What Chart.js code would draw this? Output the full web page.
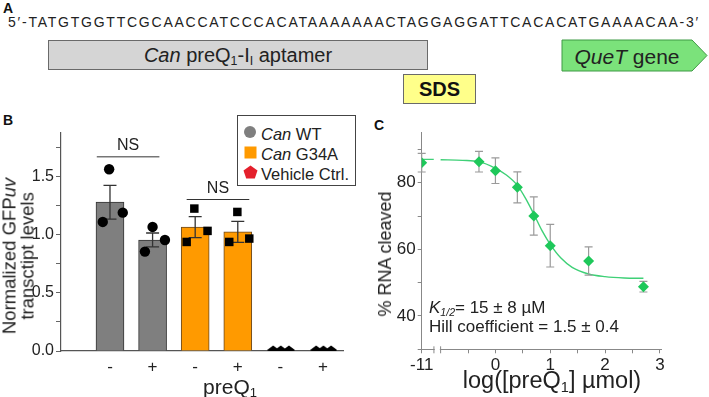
<!DOCTYPE html>
<html>
<head>
<meta charset="utf-8">
<script src="https://cdn.jsdelivr.net/npm/chart.js@4.4.1/dist/chart.umd.min.js"></script>
<style>
  body { margin:0; width:709px; height:397px; position:relative; overflow:hidden; background:#fff;
         font-family:"Liberation Sans", Arial, sans-serif; color:#222; }
  .abs { position:absolute; white-space:nowrap; line-height:1; }
  .c { transform:translate(-50%,-50%); }
  .panel { font-weight:bold; font-size:14px; color:#111; }
  sub { font-size:62%; vertical-align:-0.28em; line-height:0; }
  canvas { position:absolute; }
  .box { position:absolute; box-sizing:border-box; display:flex; align-items:center; justify-content:center; }
  .leg { position:absolute; left:237px; top:115px; width:119px; height:71px; box-sizing:border-box;
         border:1px solid #444; background:#fff; font-size:16.5px; }
  .leg div { position:absolute; left:23px; white-space:nowrap; }
</style>
</head>
<body>
<!-- panel A: sequence map -->
<div class="abs panel" style="left:3px;top:1px">A</div>
<div id="seq" class="abs" style="left:8px;top:15px;font-size:14px">5′-TATGTGGTTCGCAACCATCCCACATAAAAAAACTAGGAGGATTCACACATGAAAACAA-3′</div>
<div class="box" style="left:48px;top:40px;width:380px;height:30px;background:#d5d5d5;border:1px solid #6a6a6a;font-size:20px">
  <span><i>Can</i> preQ<sub>1</sub>-I<sub>I</sub> aptamer</span></div>
<div class="box" style="left:403px;top:74px;width:73px;height:30px;background:#ffff8a;border:1px solid #6a6a6a;font-size:20px;font-weight:bold;color:#111">SDS</div>
<svg class="abs" style="left:561px;top:39px" width="148" height="33">
  <polygon points="1,1 131,1 146,16.5 131,32 1,32" fill="#7be27b" stroke="#3f9a45" stroke-width="1"/>
</svg>
<div class="abs c" style="left:627px;top:56px;font-size:21px"><i>QueT</i> gene</div>

<!-- panel B -->
<div class="abs panel" style="left:3px;top:113px">B</div>
<canvas id="chartB" width="360" height="287" style="left:0;top:110px;width:360px;height:287px"></canvas>
<div class="abs c" style="left:18px;top:256px;transform:translate(-50%,-50%) rotate(-90deg);text-align:center;font-size:18.5px;line-height:17.5px">
  Normalized GFP<i>uv</i><br>transctipt levels</div>
<div class="abs c" style="left:230px;top:386px;font-size:21px">preQ<sub>1</sub></div>
<div class="leg">
  <svg style="position:absolute;left:5px;top:9px" width="14" height="14"><circle cx="7" cy="7" r="6" fill="#7f7f7f"/></svg>
  <div style="top:9px"><i>Can</i> WT</div>
  <svg style="position:absolute;left:6px;top:30px" width="13" height="13"><rect x="0.5" y="0.5" width="12" height="12" fill="#ff9a00"/></svg>
  <div style="top:29px"><i>Can</i> G34A</div>
  <svg style="position:absolute;left:5px;top:49px" width="15" height="14"><polygon points="7.5,0.5 14.5,5.6 11.8,13.5 3.2,13.5 0.5,5.6" fill="#e4202c"/></svg>
  <div style="top:49px">Vehicle Ctrl.</div>
</div>

<!-- panel C -->
<div class="abs panel" style="left:374px;top:118px">C</div>
<canvas id="chartC" width="349" height="287" style="left:360px;top:110px;width:349px;height:287px"></canvas>
<div class="abs c" style="left:385px;top:254px;transform:translate(-50%,-50%) rotate(-90deg);font-size:18px">% RNA cleaved</div>
<div class="abs c" style="left:552px;top:381px;font-size:23.5px">log([preQ<sub>1</sub>] µmol)</div>
<div class="abs" style="left:429px;top:299px;font-size:17px"><i>K<sub>1/2</sub></i>= 15 ± 8 µM</div>
<div class="abs" style="left:429px;top:318px;font-size:17px">Hill coefficient = 1.5 ± 0.4</div>

<script>
// ---------- panel B data ----------
const barX = [1, 2, 3, 4, 5, 6];
const xLabelsB = ['-', '+', '-', '+', '-', '+'];
const barMeans = [1.28, 0.955, 1.065, 1.025, null, null];
const barSem = [0.145, 0.06, 0.09, 0.09, 0, 0];
const barFill = ['#7f7f7f', '#7f7f7f', '#ff9a00', '#ff9a00', '#000', '#000'];
const barEdge = ['#333', '#333', '#6b4a22', '#6b4a22', '#000', '#000'];

const wtX = [0.98, 0.83, 1.30, 2.00, 1.82, 2.29];
const wtY = [1.563, 1.11, 1.19, 1.067, 0.855, 0.955];
const mutX = [2.98, 2.80, 3.29, 3.99, 3.80, 4.27];
const mutY = [1.225, 0.938, 1.033, 1.196, 0.938, 0.967];
const vehX = [4.83, 5.01, 5.20, 5.84, 6.01, 6.19];
const vehY = [0, 0, 0, 0, 0, 0];

const yTicksB = [0, 0.25, 0.5, 0.75, 1, 1.25, 1.5, 1.75];
const nsBrackets = [
  { from: 0.69, to: 2.16, y: 1.67 },
  { from: 2.80, to: 4.27, y: 1.303 },
];

// ---------- panel C data ----------
const logConc = [-11, -0.3, 0, 0.4, 0.7, 1.0, 1.7, 2.7];
const pctCleaved = [86.0, 86.3, 83.6, 78.6, 70.0, 61.1, 56.5, 48.8];
const pctErr = [2.8, 3.1, 3.85, 4.65, 5.75, 6.4, 4.25, 1.6];
const fitX = [-1.0, -0.6, -0.3, 0, 0.2, 0.4, 0.55, 0.7, 0.85, 1.0, 1.2, 1.4, 1.7, 2.0, 2.35, 2.7];
const fitY = [86.9, 86.7, 86.3, 84.3, 82.3, 79.2, 75.3, 70.6, 65.6, 61.5, 57.3, 54.6, 52.6, 51.8, 51.4, 51.3];
const fitLeftX = [-11, -10.6];
const fitLeftY = [87.0, 87.0];
const xTicksC = [-11, -0.5, 0, 0.5, 1, 1.5, 2, 2.5, 3];
const xLabelsC = ['-11', '', '0', '', '1', '', '2', '', '3'];
const yTicksC = [30, 40, 50, 60, 70, 80, 90];

// broken axis: log = -11 sits in the slot left of the break
const BREAK_SLOT = -1.345;
const pos = v => (v <= -10 ? BREAK_SLOT + (v + 11) * 0.55 : v);

Chart.defaults.font.family = '"Liberation Sans", Arial, sans-serif';
Chart.defaults.color = '#222';

function pentagon(size, color) {
  const c = document.createElement('canvas');
  c.width = c.height = size;
  const g = c.getContext('2d');
  g.fillStyle = color;
  g.beginPath();
  for (let i = 0; i < 5; i++) {
    const a = -Math.PI / 2 + i * 2 * Math.PI / 5;
    g.lineTo(size / 2 + size / 2 * Math.cos(a), size / 2 + 0.6 + size / 2 * Math.sin(a));
  }
  g.closePath();
  g.fill();
  return c;
}

const errorBars = {
  id: 'errorBars',
  draw(chart, index, o) {
    if (index !== o.index) return;
    const meta = chart.getDatasetMeta(index);
    const ys = chart.scales.y, ctx = chart.ctx;
    const data = chart.data.datasets[index].data;
    ctx.save();
    ctx.strokeStyle = o.color;
    ctx.lineWidth = o.width;
    meta.data.forEach((el, i) => {
      const e = o.errors[i];
      if (!e || data[i].y == null) return;
      const x = el.x, t = ys.getPixelForValue(data[i].y + e), b = ys.getPixelForValue(data[i].y - e);
      ctx.beginPath();
      ctx.moveTo(x, t); ctx.lineTo(x, b);
      ctx.moveTo(x - o.cap, t); ctx.lineTo(x + o.cap, t);
      ctx.moveTo(x - o.cap, b); ctx.lineTo(x + o.cap, b);
      ctx.stroke();
    });
    ctx.restore();
  },
  beforeDatasetDraw(chart, args, o) { if (o.when === 'before') this.draw(chart, args.index, o); },
  afterDatasetDraw(chart, args, o) { if (o.when !== 'before') this.draw(chart, args.index, o); },
};

const brackets = {
  id: 'brackets',
  afterDraw(chart, args, o) {
    if (!o.items) return;
    const { x, y } = chart.scales, ctx = chart.ctx;
    ctx.save();
    ctx.strokeStyle = '#333';
    ctx.lineWidth = 1;
    ctx.fillStyle = '#222';
    ctx.font = '16px "Liberation Sans", Arial, sans-serif';
    ctx.textAlign = 'center';
    o.items.forEach(b => {
      const x0 = x.getPixelForValue(b.from), x1 = x.getPixelForValue(b.to), py = y.getPixelForValue(b.y);
      ctx.beginPath(); ctx.moveTo(x0, py); ctx.lineTo(x1, py); ctx.stroke();
      ctx.fillText('NS', (x0 + x1) / 2, py - 7);
    });
    ctx.restore();
  }
};

const axisBreak = {
  id: 'axisBreak',
  afterDraw(chart, args, o) {
    if (!o.at) return;
    const { x, y } = chart.scales, ctx = chart.ctx;
    const a = x.getPixelForValue(o.at[0]), b = x.getPixelForValue(o.at[1]), py = y.bottom;
    ctx.save();
    ctx.fillStyle = '#fff';
    ctx.fillRect(a + 0.8, py - 2, b - a - 1.6, 4);
    ctx.strokeStyle = '#888';
    ctx.lineWidth = 1;
    ctx.beginPath();
    ctx.moveTo(a, py - 3); ctx.lineTo(a, py + 4);
    ctx.moveTo(b, py - 3); ctx.lineTo(b, py + 4);
    ctx.stroke();
    ctx.restore();
  }
};

Chart.register(errorBars, brackets, axisBreak);

// ---------- chart B ----------
new Chart(document.getElementById('chartB'), {
  type: 'bar',
  data: {
    datasets: [
      { type: 'bar', data: barX.map((x, i) => ({ x, y: barMeans[i] })), backgroundColor: barFill,
        borderColor: barEdge, borderWidth: 1, barThickness: 28, order: 3 },
      { type: 'scatter', data: wtX.map((x, i) => ({ x, y: wtY[i] })), pointStyle: 'circle',
        pointRadius: 5.2, backgroundColor: '#000', borderWidth: 0, order: 1 },
      { type: 'scatter', data: mutX.map((x, i) => ({ x, y: mutY[i] })), pointStyle: 'rect',
        pointRadius: 6, backgroundColor: '#000', borderWidth: 0, order: 1 },
      { type: 'scatter', data: vehX.map((x, i) => ({ x, y: vehY[i] })), pointStyle: pentagon(12, '#000'),
        pointRadius: 6, order: 1 },
    ]
  },
  options: {
    responsive: false, animation: false, events: [],
    layout: { padding: { left: 21, right: 17, top: 23, bottom: 16 } },
    plugins: {
      legend: { display: false }, tooltip: { enabled: false },
      errorBars: { index: 0, errors: barSem, color: '#333', width: 1.3, cap: 6.5 },
      brackets: { items: nsBrackets },
    },
    scales: {
      x: {
        type: 'linear', min: -0.15, max: 6.47, offset: false,
        afterBuildTicks: s => { s.ticks = barX.map(v => ({ value: v })); },
        afterFit: s => { s.height = 30; },
        ticks: { callback: (v, i) => xLabelsB[i], font: { size: 17 }, padding: 6, autoSkip: false, maxRotation: 0 },
        grid: { display: false, drawTicks: false, offset: false },
        border: { color: '#555', width: 1.2 },
      },
      y: {
        min: 0, max: 1.875,
        afterBuildTicks: s => { s.ticks = yTicksB.map(v => ({ value: v })); },
        afterFit: s => { s.width = 40; },
        ticks: { callback: v => (v * 2 % 1 === 0 ? v.toFixed(1) : ''), font: { size: 16 }, padding: 2 },
        grid: { drawOnChartArea: false, tickLength: 5, color: '#666' },
        border: { color: '#555', width: 1.2 },
      }
    }
  }
});

// ---------- chart C ----------
new Chart(document.getElementById('chartC'), {
  type: 'scatter',
  data: {
    datasets: [
      { data: fitX.map((x, i) => ({ x, y: fitY[i] })), showLine: true, borderColor: '#3fd077',
        borderWidth: 1.4, pointRadius: 0, cubicInterpolationMode: 'monotone', order: 2 },
      { data: fitLeftX.map((x, i) => ({ x: pos(x), y: fitLeftY[i] })), showLine: true, borderColor: '#3fd077',
        borderWidth: 1.4, pointRadius: 0, order: 2 },
      { data: logConc.map((x, i) => ({ x: pos(x), y: pctCleaved[i] })), pointStyle: 'rectRot',
        pointRadius: 5.5, backgroundColor: '#1ec85a', borderColor: '#1ec85a', borderWidth: 0, order: 1 },
    ]
  },
  options: {
    responsive: false, animation: false, events: [],
    layout: { padding: { left: 21.7, right: 47.5, top: 22.7, bottom: 17.7 } },
    plugins: {
      legend: { display: false }, tooltip: { enabled: false },
      errorBars: { index: 2, when: 'before', errors: pctErr, color: '#9a9a9a', width: 1.2, cap: 4 },
      axisBreak: { at: [-1.122, -1.0] },
    },
    scales: {
      x: {
        type: 'linear', min: BREAK_SLOT, max: 3.03,
        afterBuildTicks: s => { s.ticks = xTicksC.map(v => ({ value: pos(v) })); },
        afterFit: s => { s.height = 30; },
        ticks: { callback: (v, i) => xLabelsC[i], font: { size: 17 }, padding: 2, autoSkip: false, maxRotation: 0 },
        grid: { drawOnChartArea: false, tickLength: 4, color: '#888' },
        border: { color: '#888', width: 1 },
      },
      y: {
        min: 30, max: 95,
        afterBuildTicks: s => { s.ticks = yTicksC.map(v => ({ value: v })); },
        afterFit: s => { s.width = 40; },
        ticks: { callback: v => (v % 20 === 0 ? String(v) : ''), font: { size: 17 }, padding: 2 },
        grid: { drawOnChartArea: false, tickLength: 4, color: '#888' },
        border: { color: '#888', width: 1 },
      }
    }
  }
});

// stretch the sequence line across the panel
const seq = document.getElementById('seq');
const w = seq.getBoundingClientRect().width;
seq.style.letterSpacing = ((692 - w) / seq.textContent.length) + 'px';
</script>
</body>
</html>
